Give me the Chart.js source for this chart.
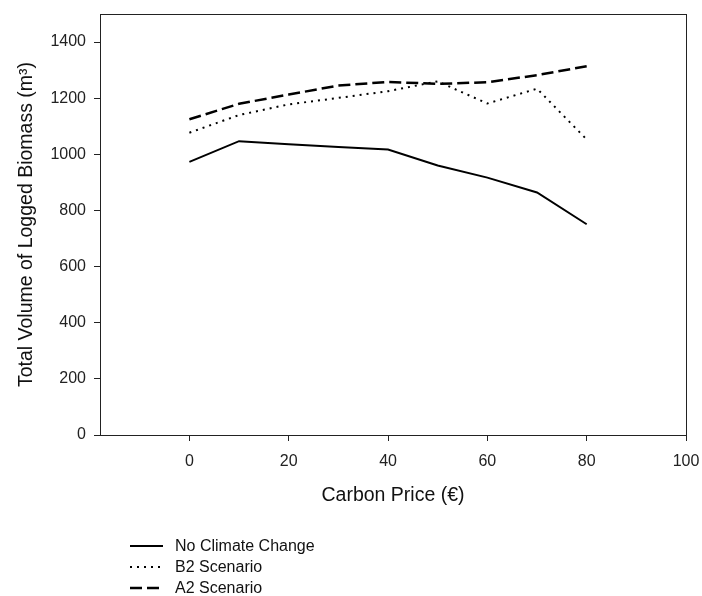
<!DOCTYPE html>
<html>
<head>
<meta charset="utf-8">
<script src="https://cdn.jsdelivr.net/npm/chart.js@4"></script>
<style>
  html, body { margin: 0; padding: 0; background: #fff; }
  #wrap { width: 702px; height: 596px; }
</style>
</head>
<body>
<div id="wrap"><canvas id="biomassChart" width="702" height="596"></canvas></div>
<script>
const carbonPrice = [0, 10, 20, 30, 40, 50, 60, 70, 80];
const noClimate = [973, 1047, 1036, 1026, 1017, 960, 917, 864, 751];
const b2Scenario = [1077, 1140, 1178, 1201, 1225, 1260, 1181, 1234, 1053];
const a2Scenario = [1125, 1180, 1213, 1245, 1258, 1251, 1257, 1282, 1314];
const xTicks = [0, 20, 40, 60, 80, 100];
const yTicks = [0, 200, 400, 600, 800, 1000, 1200, 1400];

const FONT = "'Liberation Sans', Arial, sans-serif";

function pts(vals) {
    return vals.map((v, i) => ({ x: carbonPrice[i], y: v }));
}

// frame round the plot area plus the stacked legend underneath
const frameAndLegend = {
    id: "frameAndLegend",
    afterDraw(chart) {
        const ctx = chart.ctx;
        const a = chart.chartArea;
        ctx.save();
        ctx.strokeStyle = "#222";
        ctx.lineWidth = 1;
        ctx.strokeRect(a.left + 0.5, a.top + 0.5, a.right - a.left, a.bottom - a.top);

        ctx.font = "16px " + FONT;
        ctx.textBaseline = "middle";
        chart.data.datasets.forEach((ds, i) => {
            const y = 546 + i * 21;
            ctx.beginPath();
            ctx.setLineDash(ds.borderDash || []);
            ctx.lineWidth = ds.borderWidth;
            ctx.strokeStyle = "#000";
            ctx.moveTo(130, y);
            ctx.lineTo(163, y);
            ctx.stroke();
            ctx.setLineDash([]);
            ctx.fillStyle = "#111";
            ctx.fillText(ds.label, 175, y + 1);
        });
        ctx.restore();
    }
};

new Chart(document.getElementById("biomassChart"), {
    type: "line",
    data: {
        datasets: [
            { label: "No Climate Change", data: pts(noClimate), borderColor: "#000", borderWidth: 2, borderDash: [] },
            { label: "B2 Scenario", data: pts(b2Scenario), borderColor: "#000", borderWidth: 2, borderDash: [2, 5] },
            { label: "A2 Scenario", data: pts(a2Scenario), borderColor: "#000", borderWidth: 2.5, borderDash: [12, 5] }
        ]
    },
    options: {
        responsive: false,
        animation: false,
        layout: { padding: { left: 0, right: 16, top: 14, bottom: 89 } },
        elements: { point: { radius: 0 }, line: { tension: 0 } },
        plugins: { legend: { display: false }, tooltip: { enabled: false } },
        scales: {
            x: {
                type: "linear",
                min: -18,
                max: 100,
                afterBuildTicks: axis => { axis.ticks = xTicks.map(v => ({ value: v })); },
                afterFit: axis => {
                    axis.height = 72;
                    axis.paddingLeft = 0;
                    axis.paddingRight = 0;
                },
                ticks: { color: "#222", font: { family: FONT, size: 16 }, padding: 11, callback: v => String(v) },
                grid: { drawOnChartArea: false, drawTicks: true, tickLength: 6, tickWidth: 1, tickColor: "#222" },
                border: { display: true, color: "#222" },
                title: { display: true, text: "Carbon Price (€)", color: "#111", font: { family: FONT, size: 19.5 }, padding: { top: 0, bottom: 0 } }
            },
            y: {
                min: 0,
                max: 1500,
                afterBuildTicks: axis => { axis.ticks = yTicks.map(v => ({ value: v })); },
                afterFit: axis => {
                    axis.width = 100;
                    axis.paddingTop = 0;
                    axis.paddingBottom = 0;
                },
                ticks: { color: "#222", font: { family: FONT, size: 16 }, padding: 8, callback: v => String(v) },
                grid: { drawOnChartArea: false, drawTicks: true, tickLength: 6, tickWidth: 1, tickColor: "#222" },
                border: { display: true, color: "#222" },
                title: { display: true, text: "Total Volume of Logged Biomass (m³)", color: "#111", font: { family: FONT, size: 19.5 }, padding: { top: 15, bottom: 0 } }
            }
        }
    },
    plugins: [frameAndLegend]
});
</script>
</body>
</html>
